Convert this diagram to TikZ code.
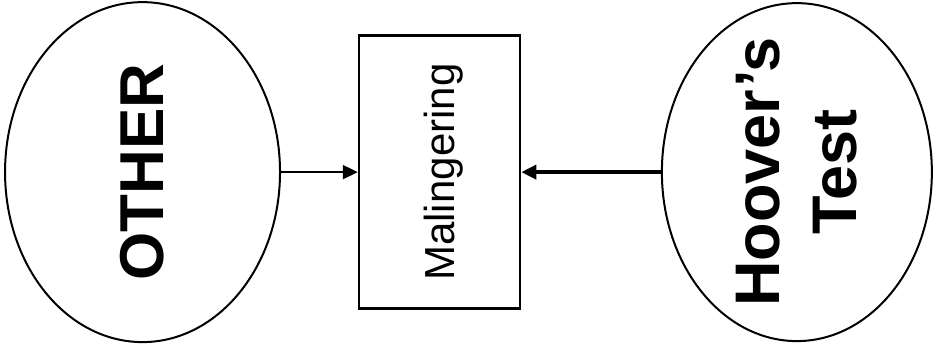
\documentclass[tikz,border=0pt]{standalone}
\usepackage{fontspec}
\setmainfont{Liberation Sans}
\usetikzlibrary{arrows.meta, positioning, shapes.geometric}

\begin{document}
\begin{tikzpicture}[
  bubble/.style={draw, ellipse, line width=2pt, inner sep=-25pt, rotate=90, align=center},
  linkarrow/.style={-{Triangle[length=15pt,width=14pt]}}
]
\useasboundingbox (0,0) rectangle (32.83,12.27);

% Left bubble
\node[bubble, minimum width=340pt, minimum height=275pt,
  font=\fontsize{62}{74}\selectfont\bfseries] (other) at (5.01,6.22) {OTHER};

% Middle box
\node[draw, line width=2.5pt, rotate=90, minimum width=273pt, minimum height=161pt,
  inner sep=0pt, text depth=0pt, font=\fontsize{42}{50}\selectfont] (mal) at (15.45,6.22)
  {Malingering};

% Right bubble
\node[bubble, minimum width=338pt, minimum height=270pt,
  font=\fontsize{63}{77}\selectfont\bfseries] (hoover) at (28.01,6.22)
  {Hoover’s\\ Test};

% Arrows
\draw[linkarrow, line width=2pt] (other) -- (mal);
\draw[linkarrow, line width=3.5pt] (hoover) -- (mal);
\end{tikzpicture}
\end{document}
